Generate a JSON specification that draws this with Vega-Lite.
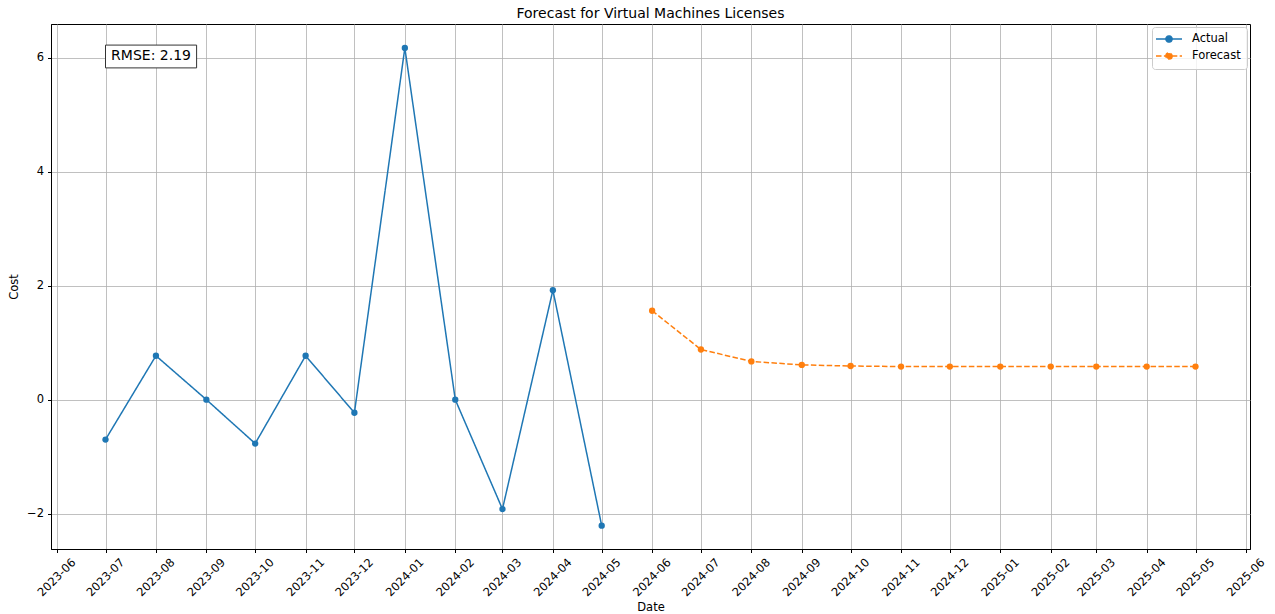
{
  "$schema": "https://vega.github.io/schema/vega-lite/v6.json",
  "width": 1199,
  "height": 525,
  "autosize": {"type": "none"},
  "padding": {"left": 51, "top": 24, "right": 25, "bottom": 65},
  "background": "white",
  "title": {"text": "Forecast for Virtual Machines Licenses", "fontSize": 14, "font": "DejaVu Sans", "fontWeight": "normal", "color": "black", "offset": 3},
  "config": {
    "view": {"stroke": "black", "strokeWidth": 1},
    "font": "DejaVu Sans",
    "axis": {
      "labelFont": "DejaVu Sans", "labelFontSize": 11.5, "labelColor": "black",
      "titleFont": "DejaVu Sans", "titleFontSize": 11.5, "titleFontWeight": "normal", "titleColor": "black",
      "tickColor": "black", "tickSize": 3.5, "domainColor": "black", "domainWidth": 1,
      "gridColor": "#b0b0b0", "gridWidth": 0.8, "gridOpacity": 1
    },
    "legend": {
      "orient": "top-right", "offset": 3, "padding": 6,
      "strokeColor": "#cccccc", "fillColor": "rgba(255,255,255,0.8)", "cornerRadius": 3,
      "labelFont": "DejaVu Sans", "labelFontSize": 11.5, "labelColor": "black",
      "symbolSize": 100,
      "symbolType": "M-2.6,0H2.6M0.62,0A0.62,0.62,0,1,1,-0.62,0A0.62,0.62,0,1,1,0.62,0Z",
      "symbolOffset": 5, "labelOffset": 17, "rowPadding": 3
    }
  },
  "layer": [
    {
      "data": {"values": [
        {"date": "2023-07-01", "cost": -0.70, "series": "Actual"},
        {"date": "2023-08-01", "cost": 0.77, "series": "Actual"},
        {"date": "2023-09-01", "cost": 0.0, "series": "Actual"},
        {"date": "2023-10-01", "cost": -0.77, "series": "Actual"},
        {"date": "2023-11-01", "cost": 0.77, "series": "Actual"},
        {"date": "2023-12-01", "cost": -0.23, "series": "Actual"},
        {"date": "2024-01-01", "cost": 6.17, "series": "Actual"},
        {"date": "2024-02-01", "cost": 0.0, "series": "Actual"},
        {"date": "2024-03-01", "cost": -1.92, "series": "Actual"},
        {"date": "2024-04-01", "cost": 1.92, "series": "Actual"},
        {"date": "2024-05-01", "cost": -2.21, "series": "Actual"},
        {"date": "2024-06-01", "cost": 1.56, "series": "Forecast"},
        {"date": "2024-07-01", "cost": 0.88, "series": "Forecast"},
        {"date": "2024-08-01", "cost": 0.67, "series": "Forecast"},
        {"date": "2024-09-01", "cost": 0.61, "series": "Forecast"},
        {"date": "2024-10-01", "cost": 0.59, "series": "Forecast"},
        {"date": "2024-11-01", "cost": 0.58, "series": "Forecast"},
        {"date": "2024-12-01", "cost": 0.58, "series": "Forecast"},
        {"date": "2025-01-01", "cost": 0.58, "series": "Forecast"},
        {"date": "2025-02-01", "cost": 0.58, "series": "Forecast"},
        {"date": "2025-03-01", "cost": 0.58, "series": "Forecast"},
        {"date": "2025-04-01", "cost": 0.58, "series": "Forecast"},
        {"date": "2025-05-01", "cost": 0.58, "series": "Forecast"}
      ]},
      "encoding": {
        "x": {
          "field": "date", "type": "temporal",
          "scale": {"type": "utc", "nice": false, "domain": [
            {"year": 2023, "month": 5, "date": 28, "hours": 12, "utc": true},
            {"year": 2025, "month": 6, "date": 3, "hours": 12, "utc": true}
          ]},
          "axis": {
            "title": "Date", "format": "%Y-%m",
            "tickCount": {"interval": "month", "step": 1},
            "labelAngle": -45, "labelAlign": "center", "labelBaseline": "middle",
            "labelPadding": 25, "labelOverlap": false, "titlePadding": 3
          }
        },
        "y": {
          "field": "cost", "type": "quantitative",
          "scale": {"domain": [-2.62, 6.59], "nice": false, "zero": false},
          "axis": {"title": "Cost", "values": [-2, 0, 2, 4, 6], "format": "d", "labelPadding": 4, "titlePadding": 7}
        },
        "color": {
          "field": "series", "type": "nominal",
          "scale": {"domain": ["Actual", "Forecast"], "range": ["#1f77b4", "#ff7f0e"]}
        }
      },
      "layer": [
        {
          "mark": {"type": "line", "strokeWidth": 1.5},
          "encoding": {
            "strokeDash": {
              "field": "series", "type": "nominal",
              "scale": {"domain": ["Actual", "Forecast"], "range": [[1, 0], [5.5, 2.4]]},
              "legend": null
            },
            "color": {
              "field": "series", "type": "nominal",
              "legend": {
                "title": null,
                "encode": {
                  "symbols": {"update": {
                    "fill": {"scale": "color", "field": "value"},
                    "stroke": {"scale": "color", "field": "value"},
                    "strokeWidth": {"value": 1.5},
                    "strokeDash": {"signal": "datum.value === 'Forecast' ? [5.5, 2.4] : [1, 0]"},
                    "opacity": {"value": 1}
                  }}
                }
              }
            }
          }
        },
        {
          "mark": {"type": "circle", "size": 40, "opacity": 1}
        }
      ]
    },
    {
      "data": {"values": [
        {"label": "RMSE: 2.19", "x0": "2023-07-01", "x1": "2023-08-26", "y0": 5.82, "y1": 6.22, "xm": "2023-07-29", "ym": 6.02}
      ]},
      "layer": [
        {
          "mark": {"type": "rect", "fill": "white", "stroke": "#333333", "strokeWidth": 1},
          "encoding": {
            "x": {"field": "x0", "type": "temporal"},
            "x2": {"field": "x1"},
            "y": {"field": "y0", "type": "quantitative"},
            "y2": {"field": "y1"}
          }
        },
        {
          "mark": {"type": "text", "fontSize": 14, "font": "DejaVu Sans", "color": "black", "align": "center", "baseline": "middle"},
          "encoding": {
            "x": {"field": "xm", "type": "temporal"},
            "y": {"field": "ym", "type": "quantitative"},
            "text": {"field": "label"}
          }
        }
      ]
    }
  ]
}
